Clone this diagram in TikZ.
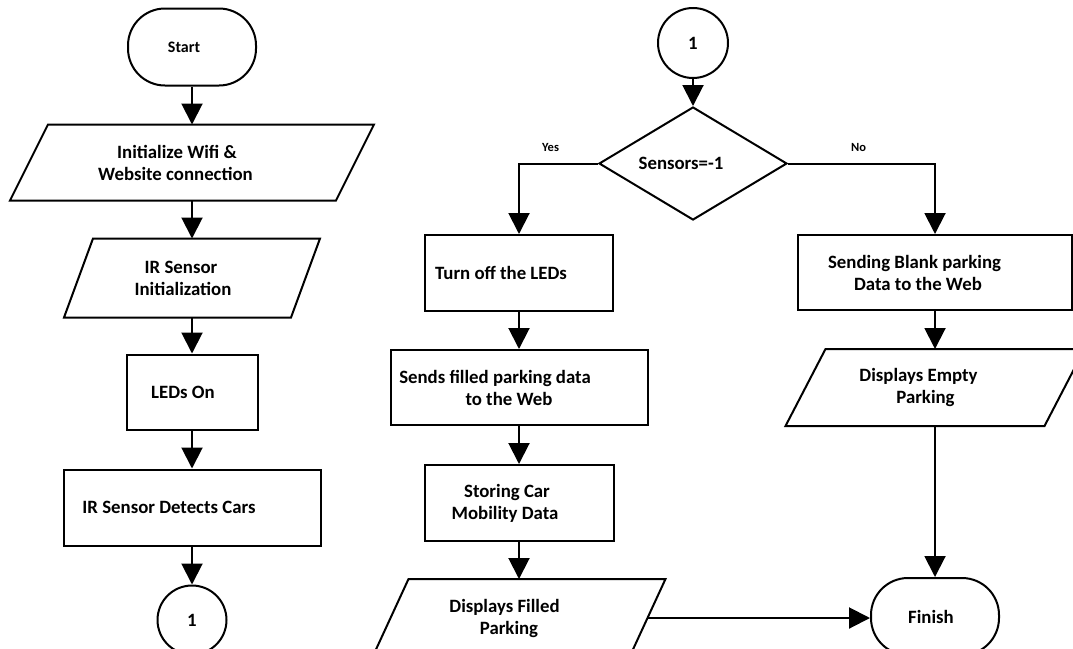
\documentclass[tikz,border=0pt]{standalone}
\usepackage{fontspec}
\setmainfont{Carlito}
\usetikzlibrary{arrows.meta,positioning,shapes.geometric}
% pad on the right so a line sits left of the box centre
\newcommand{\padr}[1]{\hspace*{#1}}

\begin{document}
\begin{tikzpicture}[
    x=1pt, y=1pt,
    node distance=38pt,
    line width=2pt,
    font=\fontsize{18.8}{22}\selectfont\bfseries,
    box/.style={draw,rectangle,inner sep=3pt,align=center},
    io/.style={rectangle,inner sep=3pt,align=center},
    term/.style={draw,rectangle,rounded corners=37pt,minimum width=128pt,minimum height=77pt},
    conn/.style={draw,circle,minimum size=69pt,inner sep=0pt},
    decision/.style={draw,diamond,aspect=1.7,inner sep=1pt,minimum width=188pt,minimum height=113pt},
    tag/.style={font=\fontsize{12.5}{14}\selectfont\bfseries},
    >={Triangle[length=21pt,width=21pt]}]
  \clip (0,0) rectangle (1073,-648);
  % left column
  \node[term,font=\fontsize{16}{18}\selectfont\bfseries] (start) at (192,-47) {Start\padr{16pt}};
  \node[io,below=of start,minimum width=324pt,minimum height=74pt] (wifi)
    {Initialize Wifi \&\padr{30pt}\\Website connection\padr{33pt}};
  \node[io,below=of wifi,minimum width=225pt,minimum height=77pt] (irinit)
    {IR Sensor\padr{22pt}\\Initialization\padr{18pt}};
  \node[box,below=36pt of irinit,minimum width=131pt,minimum height=75pt] (ledson) {LEDs On\padr{18pt}};
  \node[box,below=of ledson,minimum width=257pt,minimum height=76pt] (detect) {IR Sensor Detects Cars\padr{46pt}};
  \node[conn,below=of detect] (conleft) {1};
  % middle column
  \node[conn,minimum size=70pt] (conright) at (693,-43) {1};
  \node[decision,below=27pt of conright] (decide) {Sensors=-1\padr{24pt}};
  \node[box,minimum width=188pt,minimum height=76pt] (turnoff) at (519,-273) {Turn off the LEDs\padr{36pt}};
  \node[box,below=37pt of turnoff,minimum width=257pt,minimum height=75pt] (sendfull)
    {Sends filled parking data\padr{48pt}\\to the Web\padr{20pt}};
  \node[box,below=of sendfull,minimum width=189pt,minimum height=76pt] (store)
    {Storing Car\padr{24pt}\\Mobility Data\padr{28pt}};
  \node[io,below=37pt of store,minimum width=255pt,minimum height=76pt] (showfull)
    {Displays Filled\padr{29pt}\\Parking\padr{20pt}};
  % right column
  \node[box,minimum width=274pt,minimum height=75pt] (sendblank) at (935,-272.5)
    {Sending Blank parking\padr{41pt}\\Data to the Web\padr{34pt}};
  \node[io,below=of sendblank,minimum width=257pt,minimum height=75pt] (showempty)
    {Displays Empty\padr{33pt}\\Parking\padr{19pt}};
  \node[term,below=151pt of showempty] (finish) {Finish\padr{8pt}};

  % slanted input/output boxes
  \foreach \n/\s in {wifi/19,irinit/14.5,showfull/18,showempty/20}
    \draw ([xshift=\s pt]\n.north west) -- ([xshift=\s pt]\n.north east)
      -- ([xshift=-\s pt]\n.south east) -- ([xshift=-\s pt]\n.south west) -- cycle;

  \draw[->] (start) -- (wifi);
  \draw[->] (wifi) -- (irinit);
  \draw[->] (irinit) -- (ledson);
  \draw[->] (ledson) -- (detect);
  \draw[->] (detect) -- (conleft);
  \draw[->] (conright) -- (decide);
  \draw[->] (decide.west) -| node[tag,pos=0.3,above=8pt]{Yes} (turnoff.north);
  \draw[->] (decide.east) -| node[tag,pos=0.24,above=8pt]{No} (sendblank.north);
  \draw[->] (turnoff) -- (sendfull);
  \draw[->] (sendfull) -- (store);
  \draw[->] (store) -- (showfull);
  \draw[->] (sendblank) -- (showempty);
  \draw[->] (showempty) -- (finish);
  \draw[->] (showfull.east) -- (showfull.east -| finish.west);
\end{tikzpicture}
\end{document}
